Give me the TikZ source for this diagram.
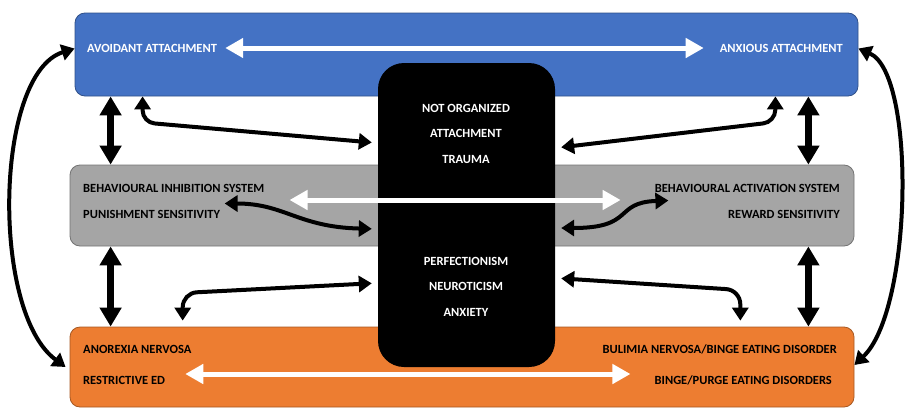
\documentclass[tikz,border=0pt]{standalone}
\usepackage{fontspec}
\setmainfont{Carlito}
\usepackage{pdfrender}
\usetikzlibrary{positioning,arrows.meta}
\definecolor{attblue}{HTML}{4472C4}
\definecolor{sysgray}{HTML}{A5A5A5}
\definecolor{edorange}{HTML}{ED7D31}
\newcommand{\darkrim}[1]{\textpdfrender{TextRenderingMode=FillStroke,LineWidth=0.7pt,StrokeColor=black}{#1}}
\newcommand{\lightrim}[1]{\textpdfrender{TextRenderingMode=FillStroke,LineWidth=0.5pt,StrokeColor=black}{#1}}
\tikzset{
  panel/.style={
    fill=#1,
    draw=#1!70!black,
    line width=0.8pt,
    rounded corners=10pt,
    inner sep=0pt,
  },
  core box/.style={
    fill=black,
    rounded corners=26pt,
    inner sep=0pt,
  },
  label text/.style={
    font=\bfseries\fontsize{12.5}{15}\selectfont,
    inner sep=0pt,
  },
  core text/.style={
    font=\bfseries\fontsize{12.5}{25.5}\selectfont,
    text=white,
    align=center,
    inner sep=0pt,
  },
  white arrow/.style={
    draw=white,
    line width=5pt,
    {Triangle[width=19pt,length=18pt]}-{Triangle[width=19pt,length=18pt]},
  },
  link/.style={
    line width=4pt,
    {Triangle[width=16pt,length=13pt]}-{Triangle[width=16pt,length=13pt]},
  },
  thick link/.style={
    line width=6.5pt,
    {Triangle[width=21pt,length=19pt]}-{Triangle[width=21pt,length=19pt]},
  }
}

\begin{document}
\begin{tikzpicture}[x=1pt, y=-1pt]
  \useasboundingbox (0,0) rectangle (909,407);

  % three bands
  \node [panel=attblue, minimum width=783pt, minimum height=83pt] (att) at (466.5,54.5) {};
  \node [panel=sysgray, minimum width=784pt, minimum height=81pt] (sys) at (462,205.5) {};
  \node [panel=edorange, minimum width=784pt, minimum height=80pt] (ed) at (462,367) {};

  % middle block
  \node [core box, minimum width=177pt, minimum height=304pt] (core) at (466.5,215) {};
  \node [core text] (trauma) at (466,133.5) {NOT ORGANIZED\\ATTACHMENT\\TRAUMA};
  \node [core text] (traits) at (466,286.5) {PERFECTIONISM\\NEUROTICISM\\ANXIETY};

  % attachment
  \node [label text, text=white, anchor=west] (avoid) at (87,48) {\darkrim{AVOIDANT ATTACHMENT}};
  \node [label text, text=white, anchor=east] (anx) at (843,48) {\darkrim{ANXIOUS ATTACHMENT}};

  % BIS / BAS
  \node [label text, text=black, anchor=west] (bis) at (83,188) {BEHAVIOURAL INHIBITION SYSTEM};
  \node [label text, text=black, anchor=west] (pun) at (83,214) {PUNISHMENT SENSITIVITY};
  \node [label text, text=black, anchor=east] (bas) at (840,188) {BEHAVIOURAL ACTIVATION SYSTEM};
  \node [label text, text=black, anchor=east] (rew) at (840,214) {REWARD SENSITIVITY};

  % eating disorders
  \node [label text, text=black, anchor=west] (an) at (83,349) {\lightrim{ANOREXIA NERVOSA}};
  \node [label text, text=black, anchor=west] (rest) at (83,380) {\lightrim{RESTRICTIVE ED}};
  \node [label text, text=black, anchor=east] (bul) at (837,349) {\lightrim{BULIMIA NERVOSA/BINGE EATING DISORDER}};
  \node [label text, text=black, anchor=east] (bp) at (832,380) {\lightrim{BINGE/PURGE EATING DISORDERS}};

  % white spectra
  \draw [white arrow] ([xshift=8pt]avoid.east) -- ([xshift=-16pt]anx.west);
  \draw [white arrow] ([xshift=25pt,yshift=-12pt]bis.east) -- ([xshift=-34pt,yshift=-12pt]bas.west);
  \draw [white arrow] ([xshift=20pt,yshift=6pt]rest.east) -- ([xshift=-24pt,yshift=6pt]bp.west);

  % vertical links
  \draw [thick link] ([xshift=36pt]att.south west) -- ([xshift=41pt]sys.north west);
  \draw [thick link] ([xshift=41pt]sys.south west) -- ([xshift=41pt]ed.north west);
  \draw [thick link] ([xshift=-50pt]att.south east) -- ([xshift=-46pt]sys.north east);
  \draw [thick link] ([xshift=-46pt]sys.south east) -- ([xshift=-46pt]ed.north east);

  % outer arcs
  \draw [link] ([yshift=6pt]att.west) .. controls +(-80,25) and +(-75,-55) .. ([xshift=-4pt]ed.west);
  \draw [link] ([yshift=6pt]att.east) .. controls +(58,25) and +(58,-55) .. ([yshift=2pt]ed.east);

  % links to the middle block
  \draw [link, rounded corners=12pt, shorten >=6pt] ([xshift=68pt]att.south west) -- ++(0,26) -- ([yshift=72pt]core.west);
  \draw [link, rounded corners=12pt, shorten <=6pt] ([yshift=67pt]core.east) -- ++(220,-26) -- ([xshift=-83pt]att.south east);
  \draw [link, shorten >=6pt] ([xshift=155pt,yshift=2pt]sys.west) .. controls +(60,0) and +(-80,-2) .. ([yshift=-14pt]core.west);
  \draw [link, shorten <=6pt] ([yshift=-13pt]core.east) .. controls +(80,0) and +(-55,2) .. ([xshift=-186pt,yshift=5pt]sys.east);
  \draw [link, rounded corners=14pt, shorten <=6pt, shorten >=6pt] ([yshift=-68pt]core.west) -- ++(-195,10) -- ([xshift=113pt]ed.north west);
  \draw [link, rounded corners=14pt, shorten <=6pt, shorten >=6pt] ([yshift=-63pt]core.east) -- ++(185,12) -- ([xshift=-114pt]ed.north east);
\end{tikzpicture}
\end{document}
